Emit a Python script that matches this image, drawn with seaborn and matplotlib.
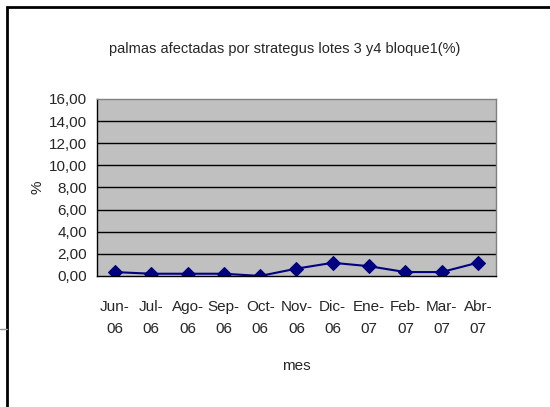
import numpy as np
import pandas as pd
import seaborn as sns
import matplotlib.pyplot as plt
from matplotlib.patches import Rectangle
from matplotlib.lines import Line2D

# data
meses = ['Jun-\n06', 'Jul-\n06', 'Ago-\n06', 'Sep-\n06', 'Oct-\n06', 'Nov-\n06',
         'Dic-\n06', 'Ene-\n07', 'Feb-\n07', 'Mar-\n07', 'Abr-\n07']
porcentaje = [0.35, 0.2, 0.2, 0.2, 0.0, 0.66, 1.19, 0.88, 0.35, 0.35, 1.2]
y_ticks = [0, 2, 4, 6, 8, 10, 12, 14, 16]

df = pd.DataFrame({'mes': meses, 'pct': porcentaje})

sns.set_style('white')
plt.rcParams['font.family'] = ['Liberation Sans', 'DejaVu Sans']

fig = plt.figure(figsize=(5.5, 4.07), dpi=100)
ax = fig.add_axes([0.176, 0.322, 0.726, 0.435])
ax.set_facecolor('#C0C0C0')

pos = np.arange(len(meses))
sns.lineplot(x=pos, y=df['pct'], ax=ax, color='#000080', marker='D',
             markersize=7, markeredgecolor='#000080', linewidth=1.5)

ax.set_xlim(-0.5, len(meses) - 0.5)
ax.set_ylim(0, 16)

# gridlines
ax.set_yticks(y_ticks)
ax.set_yticklabels([('%.2f' % v).replace('.', ',') for v in y_ticks], fontsize=11)
for v in y_ticks[1:-1]:
    ax.axhline(v, color='black', linewidth=1, zorder=1)

# category ticks between months, labels centred
ax.set_xticks(np.arange(-0.5, len(meses), 1))
ax.set_xticklabels([])
ax.set_xticks(pos, minor=True)
ax.set_xticklabels(meses, minor=True, fontsize=11, linespacing=1.75)
ax.tick_params(axis='x', which='minor', length=0, pad=17)
ax.tick_params(axis='x', which='major', length=5, width=1, direction='out', color='black')
ax.tick_params(axis='y', length=5, width=1, direction='out', color='black', pad=2)

for s in ['top', 'right']:
    ax.spines[s].set_color('#808080')
for s in ['left', 'bottom']:
    ax.spines[s].set_color('black')
for s in ax.spines.values():
    s.set_linewidth(1)

ax.set_xlabel('mes', fontsize=11, labelpad=17)
ax.set_ylabel('%', fontsize=11, labelpad=3)
ax.set_title('palmas afectadas por strategus lotes 3 y4 bloque1(%)', fontsize=10.5, pad=33, x=0.47)

# chart frame
fig.patches.append(Rectangle((7 / 550, -0.1), 1.1, 1 - 7 / 407 + 0.1,
                             transform=fig.transFigure, fill=False,
                             edgecolor='black', linewidth=2))
fig.lines.append(Line2D([0, 7 / 550], [1 - 329 / 407, 1 - 329 / 407],
                        transform=fig.transFigure, color='#999999', linewidth=1))

plt.savefig('out.png', dpi=100)
